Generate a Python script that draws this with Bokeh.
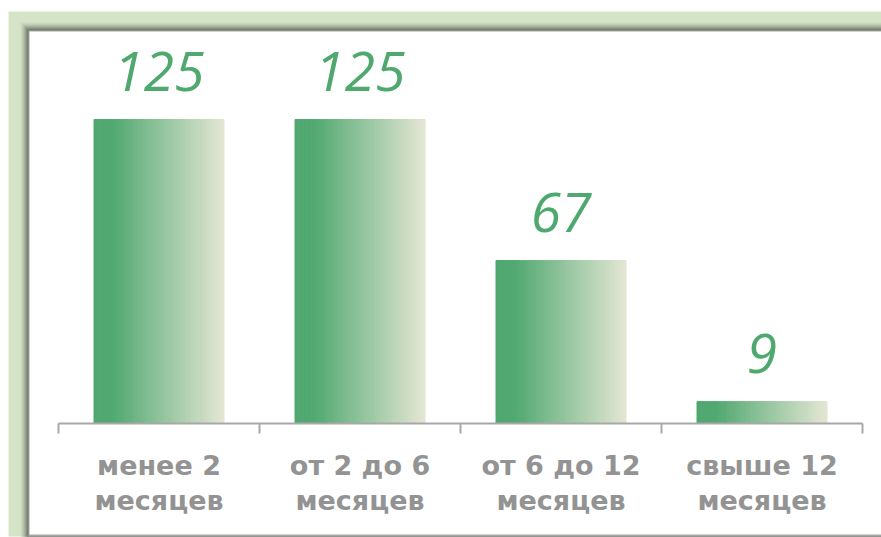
import numpy as np
from bokeh.plotting import figure
from bokeh.models import Range1d
from bokeh.embed import file_html
from bokeh.resources import INLINE
from bokeh.core.properties import value

# ---------------- data ----------------
categories = ["менее 2\nмесяцев", "от 2 до 6\nмесяцев", "от 6 до 12\nмесяцев", "свыше 12\nмесяцев"]
values = [125, 125, 67, 9]

# ---------------- layout (page pixels) ----------------
W, H = 881, 537
PAGE_L, PAGE_T = 0, 0
AX_X0 = 58          # page x of first category boundary
CAT_W = 201         # px per category
AX_Y = 423          # page y of value 0
PX_PER_UNIT = 2.432 # px per value unit
BAR_W = 130 / 201   # bar width in category units

GREEN_TXT = "#4FA96F"
GRAY_TXT = "#939393"
AXIS_COL = "#A8A8A8"


def dx(px):
    return (px - AX_X0) / CAT_W


def dy(py):
    return (AX_Y - py) / PX_PER_UNIT


def lerp(c1, c2, t):
    return "#%02x%02x%02x" % tuple(int(round(a + (b - a) * t)) for a, b in zip(c1, c2))


p = figure(width=W, height=H, output_backend="svg", toolbar_location=None,
           x_range=Range1d(dx(PAGE_L), dx(PAGE_L + W)),
           y_range=Range1d(dy(PAGE_T + H), dy(PAGE_T)),
           x_axis_location=None, y_axis_location=None,
           min_border=0, min_border_left=0, min_border_right=0,
           min_border_top=0, min_border_bottom=0)
p.grid.visible = False
p.outline_line_color = None
p.background_fill_color = "white"
p.border_fill_color = "white"


def rect(l, t, r, b, color):
    p.quad(left=dx(l), right=dx(r), top=dy(t), bottom=dy(b),
           fill_color=color, line_color=None)


# decorative frame: green mat, shadow, grey border, white panel
RIGHT = PAGE_L + W
green = (213, 227, 198)
dark = (112, 120, 106)
rect(8, 11, RIGHT, 536, lerp(green, green, 0))
NS = 8
for i in range(NS):
    t = ((i + 1) / NS) ** 1.4
    rect(20 + i, 22 + i, RIGHT, 536, lerp(green, dark, t))
rect(28, 30, RIGHT, 536, "#A4A6A8")
rect(29, 31, RIGHT, 534, "white")

# ---------------- gradient bars ----------------
c_left = (80, 168, 112)
c_right = (227, 230, 211)
N = 64
lefts, rights, tops, cols = [], [], [], []
for i, v in enumerate(values):
    c = i + 0.5
    edges = np.linspace(c - BAR_W / 2, c + BAR_W / 2, N + 1)
    for j in range(N):
        f = (j + 0.5) / N
        t = max(0.0, (f - 0.14) / 0.86)
        lefts.append(edges[j])
        rights.append(edges[j + 1])
        tops.append(v)
        cols.append(lerp(c_left, c_right, t))
p.quad(left=lefts, right=rights, bottom=0, top=tops,
       fill_color=cols, line_color=cols, line_width=1)

# ---------------- axis ----------------
n = len(categories)
p.segment(x0=0, x1=n, y0=0, y1=0, line_color=AXIS_COL, line_width=2)
ticks = list(range(n + 1))
p.segment(x0=ticks, x1=ticks, y0=[0] * len(ticks), y1=[dy(AX_Y + 10)] * len(ticks),
          line_color=AXIS_COL, line_width=2)

# ---------------- labels ----------------
xs = [i + 0.5 for i in range(n)]
p.text(x=xs, y=values, text=[str(v) for v in values],
       text_font=value("Open Sans"), text_font_style="italic",
       text_font_size="55px", text_color=GREEN_TXT,
       text_align="center", text_baseline="alphabetic", y_offset=-48)

line1 = [c.split("\n")[0] for c in categories]
line2 = [c.split("\n")[1] for c in categories]
for lines, off in ((line1, 42), (line2, 77)):
    p.text(x=xs, y=[0] * n, text=lines,
           text_font=value("DejaVu Sans"), text_font_style="bold",
           text_font_size="27px", text_color=GRAY_TXT,
           text_align="center", text_baseline="alphabetic", y_offset=off)

open("out.html", "w").write(file_html(p, INLINE))
